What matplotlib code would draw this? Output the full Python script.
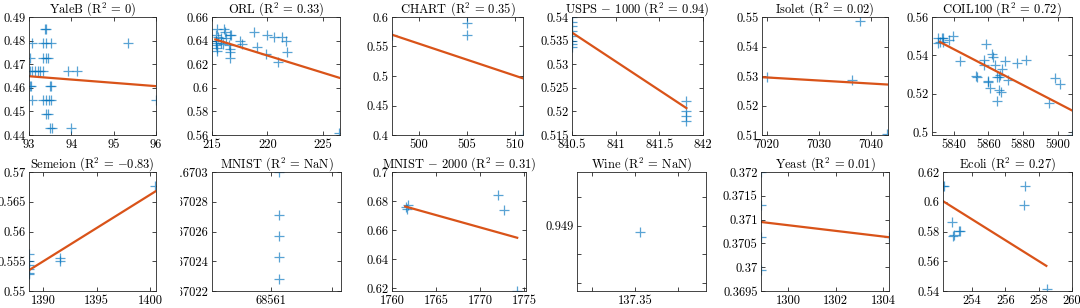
import matplotlib
matplotlib.use("Agg")
import matplotlib.pyplot as plt
from matplotlib.patches import Rectangle

plt.rcParams["font.family"] = ["cmr10", "DejaVu Serif"]
plt.rcParams["mathtext.fontset"] = "cm"
plt.rcParams["axes.formatter.use_mathtext"] = True
plt.rcParams["font.size"] = 8

W, H = 1080, 308

# ---- data ----
yaleb_x = [93.08, 93.34, 93.41, 93.53, 93.38, 93.41, 93.02, 93.32, 93.41, 93.45,
           93.02, 93.06, 93.14, 93.22, 93.26, 93.34, 93.92, 94.13,
           93.05, 93.02, 93.49, 93.53, 93.06, 93.34, 93.41, 93.47, 93.53, 96.0,
           93.39, 93.45, 93.49, 93.55, 94.0, 95.33]
yaleb_y = [0.479, 0.479, 0.479, 0.479, 0.4851, 0.4851, 0.4728, 0.4728, 0.4728, 0.4728,
           0.467, 0.467, 0.467, 0.467, 0.467, 0.467, 0.467, 0.467,
           0.4607, 0.4607, 0.4607, 0.4607, 0.4548, 0.4548, 0.4548, 0.4548, 0.4548, 0.4548,
           0.4487, 0.4487, 0.4428, 0.4428, 0.4428, 0.479]
yaleb_fit_x = [93.0, 96.0]
yaleb_fit_y = [0.4649, 0.4607]

orl_x = [215.45, 215.4, 215.5, 215.35, 215.35, 215.4, 215.45, 215.45, 215.85, 215.85,
         216.1, 216.15, 216.3, 216.0, 216.66, 216.75, 216.55, 216.6, 216.6, 216.6,
         217.55, 217.75, 218.8, 219.1, 219.9, 220.0, 220.6, 221.0, 221.35, 221.7,
         221.8, 226.5]
orl_y = [0.650, 0.645, 0.643, 0.640, 0.638, 0.636, 0.6335, 0.631, 0.642, 0.638,
         0.650, 0.647, 0.642, 0.637, 0.645, 0.645, 0.636, 0.633, 0.630, 0.625,
         0.640, 0.637, 0.647, 0.635, 0.629, 0.645, 0.643, 0.622, 0.643, 0.640,
         0.630, 0.562]
orl_fit_x = [215.3, 226.57]
orl_fit_y = [0.641, 0.6083]

chart_x = [497.2, 505.05, 505.0, 510.85]
chart_y = [0.569, 0.590, 0.569, 0.400]
chart_fit_x = [497.15, 510.87]
chart_fit_y = [0.570, 0.496]

usps_x = [840.5] * 8 + [841.81] * 4
usps_y = [0.5400, 0.5390, 0.5380, 0.5370, 0.5360, 0.5350, 0.5343, 0.5337,
          0.5222, 0.5200, 0.5190, 0.5180]
usps_fit_x = [840.5, 841.81]
usps_fit_y = [0.5367, 0.5207]

isolet_x = [7020.0, 7036.3, 7037.8, 7043.1]
isolet_y = [0.5298, 0.5288, 0.5485, 0.5102]
isolet_fit_x = [7019.0, 7043.2]
isolet_fit_y = [0.5296, 0.5271]

coil_x = [5831, 5833, 5834, 5832, 5834, 5831, 5839.6, 5837.4, 5843.8, 5858.8,
          5857.3, 5857.3, 5862, 5862.5, 5864, 5869.8, 5876.5, 5881.7, 5853.1, 5853.4,
          5860.1, 5859.6, 5860.8, 5868, 5867, 5866, 5865, 5866, 5867.3, 5871.2,
          5864.8, 5898.7, 5901.3, 5895.3, 5908.3]
coil_y = [0.549, 0.549, 0.549, 0.547, 0.547, 0.5465, 0.5499, 0.5482, 0.537, 0.546,
          0.5377, 0.5348, 0.5409, 0.539, 0.5348, 0.5369, 0.5362, 0.5377, 0.529, 0.5287,
          0.5264, 0.526, 0.523, 0.533, 0.5296, 0.5287, 0.5287, 0.5217, 0.5211, 0.527,
          0.516, 0.5283, 0.5252, 0.5153, 0.4985]
coil_fit_x = [5832.0, 5908.3]
coil_fit_y = [0.5470, 0.5113]

semeion_x = [1388.7] * 6 + [1391.6, 1391.6, 1400.5]
semeion_y = [0.5562, 0.5550, 0.5543, 0.5537, 0.5531, 0.5529, 0.5556, 0.5550, 0.5676]
semeion_fit_x = [1388.66, 1400.56]
semeion_fit_y = [0.5535, 0.5668]

mnist_x = [68561.064] * 5
mnist_y = [0.67030, 0.670271, 0.670257, 0.670243, 0.670228]

mnist2k_x = [1761.8, 1761.6, 1761.7, 1772.0, 1772.7, 1774.2]
mnist2k_y = [0.6771, 0.6760, 0.6749, 0.6842, 0.6737, 0.6185]
mnist2k_fit_x = [1761.5, 1774.2]
mnist2k_fit_y = [0.6763, 0.6548]

wine_x = [137.3501]
wine_y = [0.948954]

yeast_x = [1298.85] * 4 + [1304.24]
yeast_y = [0.3720, 0.37131, 0.37063, 0.36995, 0.37063]
yeast_fit_x = [1298.85, 1304.24]
yeast_fit_y = [0.37095, 0.37063]

ecoli_x = [252.26, 252.3, 252.8, 252.85, 252.9, 253.2, 253.25, 257.2, 257.1, 258.5]
ecoli_y = [0.6103, 0.6103, 0.5862, 0.5772, 0.5775, 0.5801, 0.5801, 0.6103, 0.5981, 0.5416]
ecoli_fit_x = [252.26, 258.46]
ecoli_fit_y = [0.6004, 0.5569]

titles = [r"YaleB (R$^2$ = 0)", r"ORL (R$^2$ = 0.33)", r"CHART (R$^2$ = 0.35)",
          r"USPS $-$ 1000 (R$^2$ = 0.94)", r"Isolet (R$^2$ = 0.02)", r"COIL100 (R$^2$ = 0.72)",
          r"Semeion (R$^2$ = $-$0.83)", r"MNIST (R$^2$ = NaN)", r"MNIST $-$ 2000 (R$^2$ = 0.31)",
          r"Wine (R$^2$ = NaN)", r"Yeast (R$^2$ = 0.01)", r"Ecoli (R$^2$ = 0.27)"]

# panel: points, fit line, xlim, ylim, xticks, yticks, axes box in pixels (l, t, r, b)
panels = [
    (yaleb_x, yaleb_y, yaleb_fit_x, yaleb_fit_y, (93, 96), (0.44, 0.49),
     [93, 94, 95, 96], [0.44, 0.45, 0.46, 0.47, 0.48, 0.49], (29, 17, 156, 135)),
    (orl_x, orl_y, orl_fit_x, orl_fit_y, (215, 226.57), (0.56, 0.66),
     [215, 220, 225], [0.56, 0.58, 0.6, 0.62, 0.64, 0.66], (212, 17, 340, 135)),
    (chart_x, chart_y, chart_fit_x, chart_fit_y, (497.15, 510.87), (0.4, 0.6),
     [500, 505, 510], [0.4, 0.45, 0.5, 0.55, 0.6], (392, 17, 523, 135)),
    (usps_x, usps_y, usps_fit_x, usps_fit_y, (840.5, 842), (0.515, 0.54),
     [840.5, 841, 841.5, 842], [0.515, 0.52, 0.525, 0.53, 0.535, 0.54], (572, 17, 703, 135)),
    (isolet_x, isolet_y, isolet_fit_x, isolet_fit_y, (7019.0, 7043.2), (0.51, 0.55),
     [7020, 7030, 7040], [0.51, 0.52, 0.53, 0.54, 0.55], (762, 17, 888, 135)),
    (coil_x, coil_y, coil_fit_x, coil_fit_y, (5827.5, 5908.3), (0.4985, 0.56),
     [5840, 5860, 5880, 5900], [0.5, 0.52, 0.54, 0.56], (932, 17, 1072, 135)),
    (semeion_x, semeion_y, semeion_fit_x, semeion_fit_y, (1388.66, 1400.56), (0.55, 0.57),
     [1390, 1395, 1400], [0.55, 0.555, 0.56, 0.565, 0.57], (29, 172, 156, 291)),
    (mnist_x, mnist_y, None, None, (68560.544, 68561.544), (0.67022, 0.6703),
     [68561, 68561.472], [0.67022, 0.67024, 0.67026, 0.67028, 0.6703], (212, 172, 341, 291)),
    (mnist2k_x, mnist2k_y, mnist2k_fit_x, mnist2k_fit_y, (1760, 1775.2), (0.6182, 0.70),
     [1760, 1765, 1770, 1775], [0.62, 0.64, 0.66, 0.68, 0.7], (392, 172, 526, 291)),
    (wine_x, wine_y, None, None, (137.34864, 137.35164), (0.948543, 0.949376),
     [137.349, 137.35, 137.351], [0.9486, 0.9488, 0.949, 0.9492], (577, 172, 706, 291)),
    (yeast_x, yeast_y, yeast_fit_x, yeast_fit_y, (1298.85, 1304.24), (0.3695, 0.372),
     [1300, 1302, 1304], [0.3695, 0.37, 0.3705, 0.371, 0.3715, 0.372], (761, 172, 889, 291)),
    (ecoli_x, ecoli_y, ecoli_fit_x, ecoli_fit_y, (252.26, 260), (0.54, 0.62),
     [254, 256, 258, 260], [0.54, 0.56, 0.58, 0.6, 0.62], (943, 172, 1072, 291)),
]

# ticks that MATLAB left without a label
bare_x = {7: [68561.472], 9: [137.349, 137.351]}
bare_y = {9: [0.9486, 0.9488, 0.9492]}

fig = plt.figure(figsize=(W / 100, H / 100), dpi=100)
for i, (px, py, fx, fy, xl, yl, xt, yt, box) in enumerate(panels):
    l, t, r, b = box
    ax = fig.add_axes([l / W, 1 - b / H, (r - l) / W, (b - t) / H])
    ax.plot(px, py, "+", color="#0072BD", alpha=0.65, ms=6.5, mew=0.9)
    if fx is not None:
        ax.plot(fx, fy, "-", color="#D95319", lw=1.6)
    ax.set_xlim(xl)
    ax.set_ylim(yl)
    ax.set_xticks(xt, ["" if v in bare_x.get(i, []) else f"{v:g}" for v in xt])
    ax.set_yticks(yt, ["" if v in bare_y.get(i, []) else f"{v:g}" for v in yt])
    ax.tick_params(direction="in", top=True, right=True, length=3, width=0.6,
                   color="#262626", labelsize=9, pad=2.5)
    for s in ax.spines.values():
        s.set_color("#262626")
        s.set_linewidth(0.6)
    ax.set_title(titles[i], fontsize=9, pad=3.5)

# the reference is cut between panels, hide overflow of the MNIST tick labels
fig.add_artist(Rectangle((163 / W, 0), 17 / W, 0.5, transform=fig.transFigure,
                         facecolor="white", edgecolor="none", zorder=10))

fig.savefig("out.png", dpi=100)
